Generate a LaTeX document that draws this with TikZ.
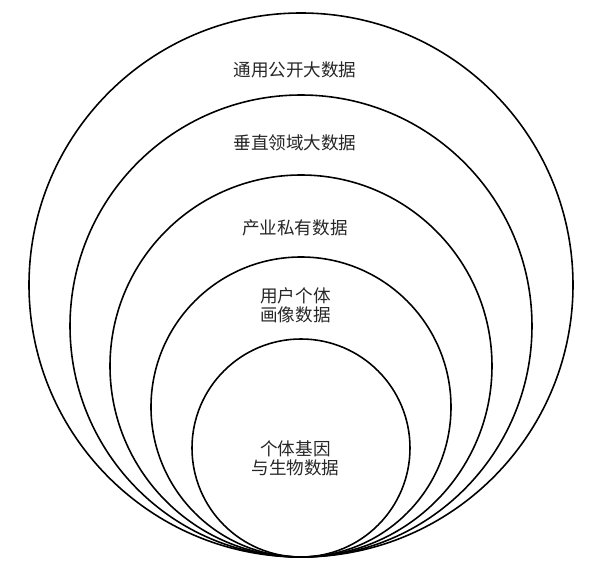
\documentclass[tikz,border=0pt]{standalone}
\usepackage{fontspec}
\newfontfamily\cjk{Noto Sans CJK SC}
\usetikzlibrary{positioning}

\tikzset{
  ring/.style={circle, draw, line width=0.9pt, inner sep=0pt},
  tag/.style={align=center, text=black!85, font=\cjk\fontsize{10}{10.6}\selectfont}
}

\begin{document}
\begin{tikzpicture}
        \useasboundingbox (-6.02,-0.26) rectangle (5.9,11.14);
        % Rings
        \foreach \r/\n in {5.44/1, 4.62/2, 3.82/3, 3.0/4, 2.18/5} {
            \node (ring\n) at (0,\r) [ring, minimum size=2*\r cm] {};
        }
        % Labels
        \node (l1) at (-0.12,9.74) [tag] {通用公开大数据};
        \node (l2) at (-0.12,8.28) [tag] {垂直领域大数据};
        \node (l3) at (-0.12,6.58) [tag] {产业私有数据};
        \node (l4) at (-0.11,5.03) [tag] {用户个体\\画像数据};
        \node (l5) at (-0.11,1.97) [tag] {个体基因\\与生物数据};
    \end{tikzpicture}
\end{document}
